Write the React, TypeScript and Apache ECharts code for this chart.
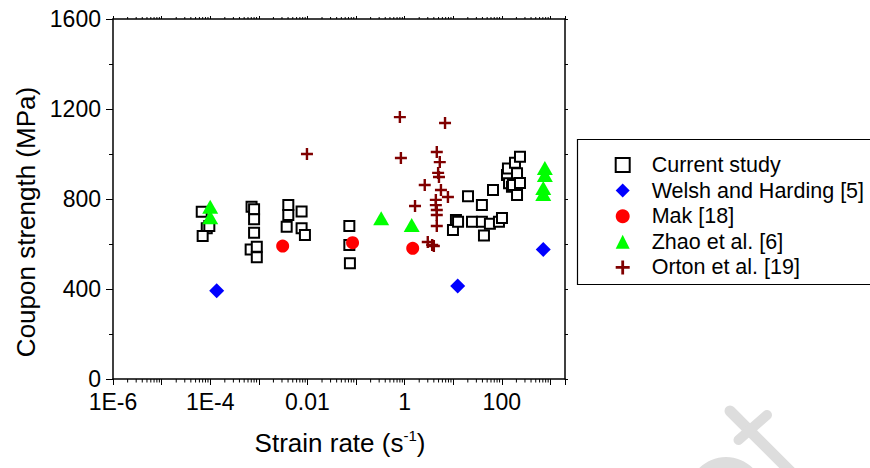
import React, { useEffect, useRef } from "react";
import * as echarts from "echarts";

const FONT = '"Liberation Sans", Arial, Helvetica, sans-serif';

// ---------- data (strain rate in 1/s, coupon strength in MPa) ----------
const seriesNames = [
  "Current study",
  "Welsh and Harding [5]",
  "Mak [18]",
  "Zhao et al. [6]",
  "Orton et al. [19]",
];

const currentStudyRate = [
  6.7e-5, 8.5e-5, 7.0e-5, 9.6e-5,
  7.1e-4, 8.0e-4, 8.0e-4, 8.0e-4, 6.8e-4, 9.1e-4, 9.1e-4,
  0.00405, 0.00405, 0.00375, 0.0076, 0.0076, 0.0089,
  0.073, 0.073, 0.075,
  9.9, 11.4, 12.6, 20.2, 24.4, 39, 39, 43, 57, 66, 87.5, 101,
  128, 134, 141, 162, 170, 187, 206, 206, 237, 237,
];
const currentStudyStrength = [
  743, 670, 636, 680,
  766, 754, 710, 650, 576, 588, 541,
  773, 729, 677, 744, 670, 640,
  680, 596, 514,
  662, 707, 699, 812, 699, 773, 699, 638, 690, 840, 699, 716,
  907, 936, 870, 855, 862, 961, 914, 818, 988, 871,
];

const welshRate = [1.36e-4, 12.4, 714];
const welshStrength = [392, 413, 576];

const makRate = [0.0031, 0.085, 1.47];
const makStrength = [591, 606, 581];

const zhaoRate = [1.0e-4, 1.0e-4, 0.33, 1.4, 770, 770, 714, 714];
const zhaoStrength = [766, 719, 714, 684, 938, 907, 849, 822];

const ortonRate = [
  0.0098, 0.8, 6.8, 0.84, 4.6, 5.3, 4.9, 5.1, 2.6, 5.6,
  7.8, 1.64, 4.4, 4.4, 4.6, 4.6, 4.6, 3.0, 3.7, 4.0,
];
const ortonStrength = [
  1000, 1164, 1138, 982, 1009, 964, 916, 898, 862, 840,
  809, 769, 796, 773, 751, 729, 680, 609, 596, 591,
];

// ---------- axes ----------
const xMin = 1e-6;
const xMax = 2000;
const xLabelExponents = [-6, -4, -2, 0, 2];
const xLabelTexts = ["1E-6", "1E-4", "0.01", "1", "100"];
const yMin = 0;
const yMax = 1600;
const yInterval = 400;

const xTitleMain = "Strain rate (s";
const xTitleSup = "-1";
const xTitleEnd = ")";
const yTitle = "Coupon strength (MPa)";

function zip(a: number[], b: number[]) {
  return a.map((v, i) => [v, b[i]]);
}

function minorTickValues(): number[] {
  const out: number[] = [];
  for (let k = -6; k <= 3; k++) {
    for (let m = 2; m <= 9; m++) {
      const v = m * Math.pow(10, k);
      if (v < xMax) out.push(v);
    }
  }
  return out;
}

const CROSS = "path://M4,0H6V4H10V6H6V10H4V6H0V4H4Z";

export default function App() {
  const ref = useRef<HTMLDivElement>(null);

  useEffect(() => {
    if (!ref.current) return;
    const chart = echarts.init(ref.current, null, { renderer: "svg" });

    const xFormatter = (val: number) => {
      const lg = Math.log10(val);
      const e = Math.round(lg);
      if (Math.abs(lg - e) > 1e-6) return "";
      const idx = xLabelExponents.indexOf(e);
      return idx >= 0 ? xLabelTexts[idx] : "";
    };

    const axisLineStyle = { color: "#000", width: 1.5 };

    const option: any = {
      animation: false,
      backgroundColor: "#ffffff",
      textStyle: { fontFamily: FONT },
      grid: {
        left: 113,
        right: 305,
        top: 19,
        bottom: 89,
        containLabel: false,
        outerBoundsMode: "none",
      },
      legend: {
        orient: "vertical",
        left: 614.7,
        top: 154,
        padding: 0,
        itemWidth: 14,
        itemHeight: 14,
        itemGap: 3.6,
        selectedMode: false,
        data: seriesNames,
        textStyle: {
          fontSize: 21.5,
          fontFamily: FONT,
          color: "#000",
          lineHeight: 22,
          padding: [0, 0, 0, 17],
        },
      },
      xAxis: [
        {
          type: "log",
          logBase: 10,
          min: xMin,
          max: xMax,
          position: "bottom",
          axisLine: { show: true, onZero: false, lineStyle: axisLineStyle },
          axisTick: { show: true, inside: false, length: 6, lineStyle: { color: "#000", width: 1 } },
          minorTick: { show: false },
          splitLine: { show: false },
          axisLabel: {
            show: true,
            margin: 13,
            fontSize: 23,
            lineHeight: 20,
            fontFamily: FONT,
            color: "#000",
            formatter: xFormatter,
          },
        },
        {
          type: "log",
          logBase: 10,
          min: xMin,
          max: xMax,
          position: "top",
          axisLine: { show: true, onZero: false, lineStyle: axisLineStyle },
          axisTick: { show: true, inside: false, length: 3, lineStyle: { color: "#000", width: 1 } },
          minorTick: { show: false },
          splitLine: { show: false },
          axisLabel: { show: false },
        },
      ],
      yAxis: [
        {
          type: "value",
          min: yMin,
          max: yMax,
          interval: yInterval,
          position: "left",
          axisLine: { show: true, onZero: false, lineStyle: axisLineStyle },
          axisTick: { show: true, inside: false, length: 7, lineStyle: { color: "#000", width: 1 } },
          minorTick: { show: true, splitNumber: 2, length: 4, lineStyle: { color: "#000", width: 1 } },
          splitLine: { show: false },
          axisLabel: {
            show: true,
            margin: 12,
            fontSize: 23,
            lineHeight: 18,
            fontFamily: FONT,
            color: "#000",
            formatter: (v: number) => String(v),
          },
        },
        {
          type: "value",
          min: yMin,
          max: yMax,
          interval: yInterval,
          position: "right",
          axisLine: { show: true, onZero: false, lineStyle: axisLineStyle },
          axisTick: { show: true, inside: false, length: 3, lineStyle: { color: "#000", width: 1 } },
          minorTick: { show: true, splitNumber: 2, length: 3, lineStyle: { color: "#000", width: 1 } },
          splitLine: { show: false },
          axisLabel: { show: false },
        },
      ],
      series: [
        {
          name: "x minor ticks",
          type: "custom",
          xAxisIndex: 0,
          yAxisIndex: 0,
          silent: true,
          clip: false,
          data: minorTickValues().map((v) => [v, yMin]),
          renderItem: (_params: any, api: any) => {
            const v = api.value(0);
            const b = api.coord([v, yMin]);
            const t = api.coord([v, yMax]);
            return {
              type: "group",
              children: [
                {
                  type: "line",
                  shape: { x1: b[0], y1: b[1], x2: b[0], y2: b[1] + 3.5 },
                  style: { stroke: "#000", lineWidth: 1 },
                },
                {
                  type: "line",
                  shape: { x1: t[0], y1: t[1], x2: t[0], y2: t[1] - 2 },
                  style: { stroke: "#000", lineWidth: 1 },
                },
              ],
            };
          },
        },
        {
          name: seriesNames[0],
          type: "scatter",
          symbol: "rect",
          symbolSize: 10,
          itemStyle: { color: "#ffffff", borderColor: "#000000", borderWidth: 2, opacity: 1 },
          data: zip(currentStudyRate, currentStudyStrength),
          z: 2,
        },
        {
          name: seriesNames[1],
          type: "scatter",
          symbol: "diamond",
          symbolSize: 15,
          itemStyle: { color: "#0000ff", opacity: 1 },
          data: zip(welshRate, welshStrength),
          z: 3,
        },
        {
          name: seriesNames[2],
          type: "scatter",
          symbol: "circle",
          symbolSize: 13,
          itemStyle: { color: "#ff0000", opacity: 1 },
          data: zip(makRate, makStrength),
          z: 3,
        },
        {
          name: seriesNames[3],
          type: "scatter",
          symbol: "triangle",
          symbolSize: [16, 14],
          itemStyle: { color: "#00ff00", opacity: 1 },
          data: zip(zhaoRate, zhaoStrength),
          z: 3,
        },
        {
          name: seriesNames[4],
          type: "scatter",
          symbol: CROSS,
          symbolSize: 12,
          itemStyle: { color: "#800000", opacity: 1 },
          data: zip(ortonRate, ortonStrength),
          z: 3,
        },
      ],
      graphic: [
        // watermark
        {
          type: "group",
          silent: true,
          z: -10,
          children: [
            {
              type: "ellipse",
              shape: { cx: 726, cy: 500, rx: 40, ry: 43 },
              style: { fill: "#dddddd" },
            },
            {
              type: "line",
              shape: { x1: 730, y1: 411, x2: 815, y2: 496 },
              style: { stroke: "#dddddd", lineWidth: 11, lineCap: "round" },
            },
            {
              type: "line",
              shape: { x1: 738.5, y1: 440, x2: 767, y2: 415 },
              style: { stroke: "#dddddd", lineWidth: 10, lineCap: "round" },
            },
          ],
        },
        // legend frame
        {
          type: "rect",
          silent: true,
          shape: { x: 577.5, y: 139.5, width: 320, height: 145 },
          style: { fill: "none", stroke: "#000", lineWidth: 1.2 },
        },
        // y title
        {
          type: "text",
          x: 26,
          y: 222,
          rotation: Math.PI / 2,
          silent: true,
          style: {
            text: yTitle,
            fontSize: 26,
            fontFamily: FONT,
            fill: "#000",
            align: "center",
            verticalAlign: "middle",
          },
        },
        // x title
        {
          type: "text",
          x: 340,
          y: 443,
          silent: true,
          style: {
            text: `{a|${xTitleMain}}{b|${xTitleSup}}{a|${xTitleEnd}}`,
            align: "center",
            verticalAlign: "middle",
            rich: {
              a: { fontSize: 26, fontFamily: FONT, fill: "#000", lineHeight: 30 },
              b: { fontSize: 15, fontFamily: FONT, fill: "#000", lineHeight: 20, verticalAlign: "top" },
            },
          },
        },
      ],
    };

    chart.setOption(option);
    return () => {
      chart.dispose();
    };
  }, []);

  return (
    <div
      ref={ref}
      style={{ position: "fixed", left: 0, top: 0, width: 870, height: 468, background: "#fff" }}
    />
  );
}
